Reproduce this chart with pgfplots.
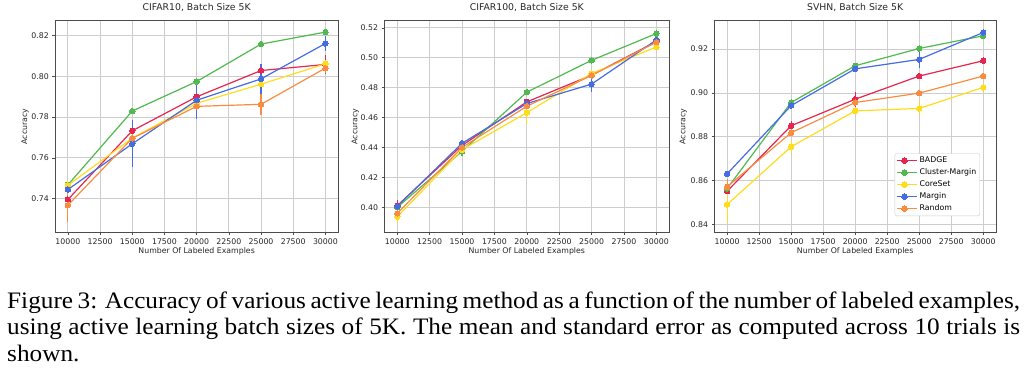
\documentclass[border=0pt]{standalone}
\usepackage{fontspec}
\setmainfont{Liberation Serif}
\newfontfamily\dejavu{DejaVu Sans}
\usepackage{pgfplots}
\pgfplotsset{compat=1.18}
\usepackage{graphicx}

\definecolor{cBadge}{RGB}{228,38,80}
\definecolor{cCM}{RGB}{80,185,80}
\definecolor{cCore}{RGB}{255,220,30}
\definecolor{cMargin}{RGB}{70,108,225}
\definecolor{cRand}{RGB}{250,140,65}
\definecolor{gridc}{RGB}{205,205,205}

\pgfplotsset{
  panel/.style={
    scale only axis, height=211.6pt, anchor=south west,
    xmin=9000, xmax=31000,
    xtick={10000,12500,15000,17500,20000,22500,25000,27500,30000},
    scaled x ticks=false, scaled y ticks=false,
    xticklabel style={/pgf/number format/.cd, 1000 sep={}, assume math mode=true},
    yticklabel style={/pgf/number format/.cd, fixed, fixed zerofill, precision=2, assume math mode=true},
    tick label style={font=\dejavu\fontsize{7.8}{9}\selectfont, black!85},
    label style={font=\dejavu\fontsize{7.8}{9}\selectfont, black!85},
    title style={font=\dejavu\fontsize{9.3}{11}\selectfont, black!85, at={(0.5,1)}, anchor=base, yshift=4pt},
    xlabel={Number Of Labeled Examples}, ylabel={Accuracy},
    xlabel style={at={(axis description cs:0.5,0)}, anchor=base, yshift=-21.2pt},
    grid=major, major grid style={gridc, line width=0.8pt},
    axis line style={black!70, line width=0.7pt},
    tick align=outside, major tick length=2.7pt, tick style={black!70, line width=0.6pt},
    tick pos=left,
    legend cell align=left,
    legend image code/.code={
      \path (0pt,0pt) -- (20pt,0pt);
      \draw[##1, mark=none] (0pt,0pt) -- (15pt,0pt);
      \draw[##1, mark=none] (7.5pt,-3.5pt) -- (7.5pt,3.5pt);
      \draw[##1, only marks] plot coordinates {(7.5pt,0pt)};
    },
  },
  ser/.style={color=#1, solid, line width=1.2pt, mark=*, mark size=2.75pt,
    mark options={solid, fill=#1, draw=#1, line width=0pt},
    error bars/.cd, y dir=both, y explicit, error mark=none,
    error bar style={line width=1.2pt, #1}},
}

\newcommand{\capline}[1]{\scalebox{1.07}[1]{\makebox[946.7pt][s]{#1}}}

\begin{document}
\begin{tikzpicture}
\useasboundingbox (0,0) rectangle (1024pt,377pt);

% ---------------- CIFAR10 ----------------
\begin{axis}[panel, at={(55pt,144.7pt)}, width=283.3pt,
  ymin=0.7234, ymax=0.8274,
  ytick={0.74,0.76,0.78,0.80,0.82},
  title={CIFAR10, Batch Size 5K},
  ylabel style={at={([xshift=-30pt]axis description cs:0,0.5)}, anchor=center}]
\addplot[ser=cBadge] coordinates {(10000,0.7395) +- (0,0.002) (15000,0.7733) +- (0,0.003) (20000,0.7900) +- (0,0.002) (25000,0.8029) +- (0,0.002) (30000,0.8059) +- (0,0.0045)};
\addplot[ser=cCM] coordinates {(10000,0.7467) +- (0,0.001) (15000,0.7830) +- (0,0.001) (20000,0.7975) +- (0,0.001) (25000,0.8159) +- (0,0.001) (30000,0.8218) +- (0,0.001)};
\addplot[ser=cCore] coordinates {(10000,0.7465) +- (0,0.002) (15000,0.7697) +- (0,0.002) (20000,0.7868) +- (0,0.002) (25000,0.7962) +- (0,0.002) (30000,0.8062) +- (0,0.002)};
\addplot[ser=cMargin] coordinates {(10000,0.7444) +- (0,0.002) (15000,0.7669) +- (0,0.0115) (20000,0.7883) +- (0,0.009) (25000,0.7988) +- (0,0.0074) (30000,0.8162) +- (0,0.0037)};
\addplot[ser=cRand] coordinates {(10000,0.7367) +- (0,0.0082) (15000,0.7696) +- (0,0.003) (20000,0.7853) +- (0,0.002) (25000,0.7863) +- (0,0.0053) (30000,0.8041) +- (0,0.0025)};
\end{axis}

% ---------------- CIFAR100 ----------------
\begin{axis}[panel, at={(384.3pt,144.7pt)}, width=285pt,
  ymin=0.3833, ymax=0.5248,
  ytick={0.40,0.42,0.44,0.46,0.48,0.50,0.52},
  title={CIFAR100, Batch Size 5K},
  ylabel style={at={([xshift=-29pt]axis description cs:0,0.5)}, anchor=center}]
\addplot[ser=cBadge] coordinates {(10000,0.4011) +- (0,0.004) (15000,0.4414) +- (0,0.002) (20000,0.4705) +- (0,0.002) (25000,0.4884) +- (0,0.002) (30000,0.5108) +- (0,0.002)};
\addplot[ser=cCM] coordinates {(10000,0.4000) +- (0,0.001) (15000,0.4374) +- (0,0.003) (20000,0.4770) +- (0,0.001) (25000,0.4983) +- (0,0.002) (30000,0.5162) +- (0,0.001)};
\addplot[ser=cCore] coordinates {(10000,0.3937) +- (0,0.0045) (15000,0.4385) +- (0,0.002) (20000,0.4633) +- (0,0.0078) (25000,0.4895) +- (0,0.002) (30000,0.5072) +- (0,0.002)};
\addplot[ser=cMargin] coordinates {(10000,0.4007) +- (0,0.002) (15000,0.4428) +- (0,0.001) (20000,0.4694) +- (0,0.002) (25000,0.4824) +- (0,0.0055) (30000,0.5119) +- (0,0.002)};
\addplot[ser=cRand] coordinates {(10000,0.3960) +- (0,0.002) (15000,0.4400) +- (0,0.002) (20000,0.4676) +- (0,0.002) (25000,0.4882) +- (0,0.002) (30000,0.5104) +- (0,0.002)};
\end{axis}

% ---------------- SVHN ----------------
\begin{axis}[panel, at={(714.3pt,144.7pt)}, width=281.7pt,
  ymin=0.8363, ymax=0.9330,
  ytick={0.84,0.86,0.88,0.90,0.92},
  title={SVHN, Batch Size 5K},
  ylabel style={at={([xshift=-31pt]axis description cs:0,0.5)}, anchor=center},
  legend style={at={(0.943,0.077)}, anchor=south east, draw=black!20, fill=white,
    rounded corners=2pt, font=\dejavu\fontsize{7.8}{9}\selectfont,
    inner xsep=1.5pt, inner ysep=1.5pt, row sep=0.6pt}]
\addplot[ser=cBadge] coordinates {(10000,0.8551) +- (0,0.002) (15000,0.8850) +- (0,0.0023) (20000,0.8971) +- (0,0.0035) (25000,0.9077) +- (0,0.001) (30000,0.9147) +- (0,0.001)};
\addlegendentry{BADGE}
\addplot[ser=cCM] coordinates {(10000,0.8563) +- (0,0.001) (15000,0.8956) +- (0,0.001) (20000,0.9124) +- (0,0.001) (25000,0.9203) +- (0,0.001) (30000,0.9261) +- (0,0.001)};
\addlegendentry{Cluster-Margin}
\addplot[ser=cCore] coordinates {(10000,0.8490) +- (0,0.008) (15000,0.8754) +- (0,0.003) (20000,0.8918) +- (0,0.001) (25000,0.8929) +- (0,0.003) (30000,0.9025) +- (0,0.001)};
\addlegendentry{CoreSet}
\addplot[ser=cMargin] coordinates {(10000,0.8630) +- (0,0.001) (15000,0.8942) +- (0,0.001) (20000,0.9110) +- (0,0.001) (25000,0.9153) +- (0,0.0038) (30000,0.9276) +- (0,0.001)};
\addlegendentry{Margin}
\addplot[ser=cRand] coordinates {(10000,0.8571) +- (0,0.0034) (15000,0.8818) +- (0,0.001) (20000,0.8956) +- (0,0.001) (25000,0.8999) +- (0,0.001) (30000,0.9077) +- (0,0.001)};
\addlegendentry{Random}
\end{axis}

% ---------------- caption ----------------
\node[anchor=base west, inner sep=0pt, font=\fontsize{23.6}{26.7}\selectfont] at (7pt,68.7pt)
  {\capline{Figure 3: Accuracy of various active learning method as a function of the number of labeled examples,}};
\node[anchor=base west, inner sep=0pt, font=\fontsize{23.6}{26.7}\selectfont] at (7pt,42pt)
  {\capline{using active learning batch sizes of 5K. The mean and standard error as computed across 10 trials is}};
\node[anchor=base west, inner sep=0pt, font=\fontsize{23.6}{26.7}\selectfont] at (7pt,15.3pt)
  {\scalebox{1.07}[1]{shown.}};
\end{tikzpicture}
\end{document}
